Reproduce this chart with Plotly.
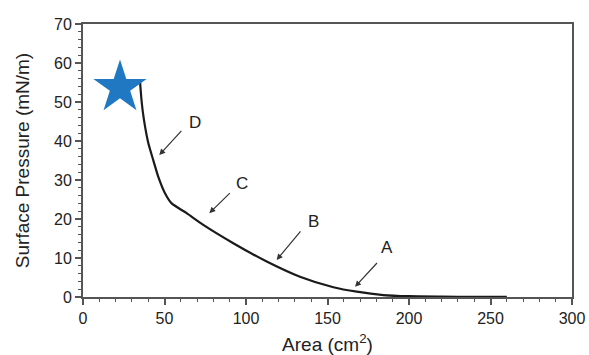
import plotly.graph_objects as go

area = [35, 36, 37.4, 40.1, 43.1, 46.2, 50.3, 54.4, 63.6, 73.8, 92.2, 112.7, 133.1, 153.6, 167.9, 184.2, 200, 220, 240, 260]
pressure = [55.2, 50, 45.4, 39.4, 35.1, 30.8, 26.6, 24.0, 21.5, 18.5, 13.8, 9.1, 5.2, 2.5, 1.36, 0.5, 0.2, 0.1, 0.05, 0.05]

star_x = [22.7]
star_y = [53.7]

labels = ["A", "B", "C", "D"]
label_x = [186.3, 141.3, 97.5, 69]
label_y = [12.7, 19.3, 29.2, 44.7]
head_x = [166.9, 118.8, 77.5, 46.8]
head_y = [2.6, 9.5, 21.5, 36.4]
tail_x = [181.2, 134.2, 91, 61.2]
tail_y = [9.1, 17.2, 27, 43]

FONT = "Liberation Sans, Arial"

fig = go.Figure()
fig.add_trace(go.Scatter(x=area, y=pressure, mode="lines", line_shape="spline",
                         line=dict(color="#1a1a1a", width=2.2, smoothing=0.6), showlegend=False))
fig.add_trace(go.Scatter(x=star_x, y=star_y, mode="markers",
                         marker=dict(symbol="star", size=40, color="#1f78c1", line=dict(width=0)),
                         showlegend=False))

for i in range(len(labels)):
    fig.add_annotation(x=head_x[i], y=head_y[i], ax=tail_x[i], ay=tail_y[i],
                       xref="x", yref="y", axref="x", ayref="y", text="",
                       showarrow=True, arrowhead=2, arrowsize=1, arrowwidth=1.2,
                       arrowcolor="#333")
    fig.add_annotation(x=label_x[i], y=label_y[i], text=labels[i], showarrow=False,
                       font=dict(size=17, color="#222", family=FONT))

axis_common = dict(showgrid=False, zeroline=False, showline=True, linecolor="#555",
                   linewidth=2, mirror=True, ticks="outside", ticklen=6, tickwidth=1.5,
                   tickcolor="#555", automargin=False,
                   tickfont=dict(size=16, color="#222", family=FONT),
                   minor=dict(ticks="outside", ticklen=3, tickcolor="#555", tickwidth=1.2))

fig.update_xaxes(range=[0, 300], dtick=50, tick0=0,
                 title=dict(text="Area (cm<sup>2</sup>)", standoff=11,
                            font=dict(size=19, color="#222", family=FONT)),
                 **axis_common)
fig.update_yaxes(range=[0, 70], dtick=10, tick0=0,
                 title=dict(text="Surface Pressure (mN/m)", standoff=19,
                            font=dict(size=19, color="#222", family=FONT)),
                 **axis_common)

fig.update_layout(width=589, height=355, margin=dict(l=83, r=17, t=24, b=58),
                  plot_bgcolor="white", paper_bgcolor="white")

fig.write_html("out.html", config={"displayModeBar": False},
               post_script="document.body.style.margin='0';document.body.style.overflow='hidden';")
